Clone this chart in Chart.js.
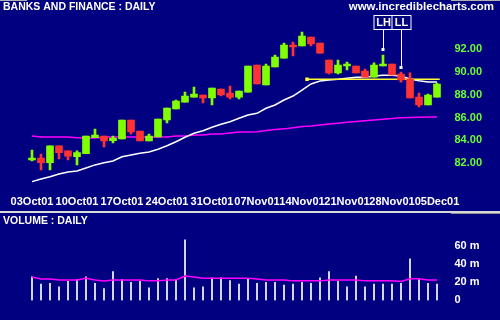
<!DOCTYPE html>
<html>
<head>
<meta charset="utf-8">
<script src="https://cdn.jsdelivr.net/npm/chart.js@4"></script>
<style>
  body { margin: 0; background: #000080; width: 500px; height: 320px; overflow: hidden; position: relative; }
  canvas { position: absolute; left: 0; }
  #price { top: 0; }
  #volume { top: 213px; }
  .rule { position: absolute; }
</style>
</head>
<body>
<canvas id="price" width="500" height="211"></canvas>
<div class="rule" style="left:0;top:0;width:27px;height:1px;background:#b0b0b0"></div>
<div class="rule" style="left:451px;top:0;width:49px;height:1px;background:#b0b0b0"></div>
<div class="rule" style="left:0;top:211px;width:500px;height:2px;background:#d8d8d8"></div>
<div class="rule" style="left:451px;top:213px;width:49px;height:1px;background:#909090"></div>
<canvas id="volume" width="500" height="107"></canvas>
<script>
// daily candles, 03Oct01 .. 05Dec01
const opens  = [82.26,82.44,82.03,83.50,83.06,82.55,82.82,84.23,84.37,83.96,
                84.11,85.78,84.81,83.93,84.29,85.78,86.75,87.36,87.80,87.98,
                87.72,88.51,88.16,87.80,88.24,90.62,88.86,90.44,91.23,92.38,
                92.29,93.08,92.55,91.06,89.92,90.53,90.53,90.09,89.56,90.53,
                90.71,89.83,89.39,87.80,87.10,87.80]
const highs  = [83.14,82.79,83.50,83.50,83.06,83.06,84.37,84.99,84.37,84.37,
                85.78,85.78,84.81,84.55,85.87,86.84,87.54,88.24,88.68,87.98,
                88.60,88.51,88.77,88.33,90.53,90.62,90.71,91.50,92.55,92.64,
                93.52,93.08,92.55,91.06,91.06,90.88,90.53,90.27,90.80,91.50,
                90.71,90.00,89.92,88.16,88.07,89.04]
const lows   = [82.18,81.38,81.38,82.35,82.26,81.82,82.82,84.23,83.41,83.76,
                84.11,84.55,83.93,83.93,84.29,85.52,86.75,87.36,87.80,87.28,
                87.10,87.89,87.63,87.63,88.24,88.95,88.86,90.44,91.23,91.41,
                92.29,92.29,91.67,89.83,89.83,90.18,89.92,89.56,89.56,90.53,
                89.74,89.12,87.72,86.93,87.10,87.80]
const closes = [82.44,82.03,83.50,82.91,82.59,82.91,84.37,84.46,83.93,84.20,
                85.78,84.73,83.93,84.37,85.87,86.84,87.45,87.89,88.07,87.72,
                88.60,87.98,87.80,88.33,90.53,88.95,90.53,91.32,92.38,92.20,
                93.17,92.47,91.67,89.92,90.62,90.71,89.92,89.56,90.62,90.71,
                89.74,89.30,87.72,87.10,87.98,88.95]
const maShort = [80.36,80.59,80.79,81.03,81.21,81.30,81.56,81.83,82.01,82.18,
                 82.54,82.71,82.85,82.97,83.21,83.52,83.87,84.26,84.61,84.84,
                 85.14,85.40,85.63,85.93,86.22,86.37,86.81,87.10,87.54,87.89,
                 88.42,88.95,89.21,89.30,89.36,89.45,89.54,89.54,89.65,89.71,
                 89.71,89.65,89.39,89.24,89.12,89.12]
const maLong  = [84.37,84.29,84.29,84.29,84.29,84.22,84.20,84.20,84.29,84.29,
                 84.29,84.29,84.29,84.29,84.29,84.29,84.37,84.37,84.46,84.46,
                 84.55,84.55,84.64,84.73,84.73,84.75,84.85,84.95,85.00,85.10,
                 85.20,85.25,85.35,85.43,85.50,85.58,85.65,85.72,85.78,85.85,
                 85.92,85.98,86.00,86.03,86.05,86.05]
// volume in millions
const volumes = [26,18,19,15,21,23,26,19,13,32,23,20,21,14,24,24,23,67,14,15,
                 25,25,22,18,24,19,20,20,17,18,20,19,25,32,21,15,27,15,18,18,
                 18,19,46,23,19,18]
const volMa   = [26,23.6,23.6,22.6,22.6,22.6,24.6,22.6,21.6,22.6,22.6,22.6,22.6,21.6,21.6,
                 22.6,22.6,27,26,24.6,24.6,24.6,24.6,24.6,24.6,23.6,22.6,22.6,22.6,21.6,
                 21.6,21.6,21.6,22.6,22.6,22.6,22.6,21.6,21.6,21.6,21.6,21,24,24,22.6,22.6]

const tickDays   = [0,5,10,15,20,25,30,35,40,45]
const tickLabels = ['03Oct01','10Oct01','17Oct01','24Oct01','31Oct01','07Nov01','14Nov01','21Nov01','28Nov01','05Dec01']
const priceTicks = [82,84,86,88,90,92]
const volTicks   = [0,20,40,60]

// support line and LH / LL markers
const supportX = [30.56, 45.3]
const supportY = 89.36
const annX     = [39, 41]
const annY     = [91.98, 90.40]
const annText  = ['LH', 'LL']
const annBox   = [95.0, 93.76]

const GREEN = '#80ff00'
const RED = '#ff3333'
const NAVY = '#000080'

Chart.defaults.font.family = 'Arial'
Chart.defaults.font.size = 11
Chart.defaults.font.weight = 'bold'
Chart.defaults.color = '#ffffff'

let candleColors = opens.map((o, i) => closes[i] >= o ? GREEN : RED)
let xy = arr => arr.map((v, i) => ({x: i, y: v}))

function xScale(display){
    return {
        type: 'linear', min: -0.5, max: 45.5, display: display, offset: false,
        grid: {display: false, drawTicks: false}, border: {display: false},
        afterBuildTicks: s => { s.ticks = tickDays.map(v => ({value: v})) },
        afterFit: s => {
            s.height = display ? 25.3 : 0
            s.paddingLeft = 0
            s.paddingRight = 0
        },
        ticks: {padding: 10, maxRotation: 0, autoSkip: false,
                callback: v => tickLabels[tickDays.indexOf(v)]}
    }
}

const headerText = {
    id: 'headerText',
    afterDraw(chart){
        let ctx = chart.ctx
        ctx.save()
        ctx.fillStyle = '#ffffff'
        ctx.textBaseline = 'middle'
        ctx.font = 'bold 10.5px Arial'
        ctx.textAlign = 'left'
        ctx.fillText('BANKS AND FINANCE : DAILY', 3, 7)
        ctx.font = 'bold 11.5px Arial'
        ctx.textAlign = 'right'
        ctx.fillText('www.incrediblecharts.com', 494, 7)
        ctx.restore()
    }
}

const pointers = {
    id: 'pointers',
    afterDatasetsDraw(chart){
        let ctx = chart.ctx
        let sx = chart.scales.x, sy = chart.scales.y
        ctx.save()
        for(let i = 0; i < annX.length; i++){
            let px = Math.round(sx.getPixelForValue(annX[i])) + 0.5
            let py = sy.getPixelForValue(annY[i])
            let top = Math.round(sy.getPixelForValue(annBox[0])) + 0.5
            let bot = Math.round(sy.getPixelForValue(annBox[1])) + 0.5
            ctx.strokeStyle = '#ffffff'
            ctx.lineWidth = 1
            ctx.beginPath()
            ctx.moveTo(px, bot)
            ctx.lineTo(px, py)
            ctx.stroke()
            ctx.fillStyle = '#ffffff'
            ctx.fillRect(px - 2, py - 1.5, 3, 3)
            ctx.fillStyle = NAVY
            ctx.fillRect(px - 9.5, top, 19, bot - top)
            ctx.strokeRect(px - 9.5, top, 19, bot - top)
            ctx.fillStyle = '#ffffff'
            ctx.font = 'bold 11px Arial'
            ctx.textAlign = 'center'
            ctx.textBaseline = 'middle'
            ctx.fillText(annText[i], px, (top + bot) / 2 + 0.5)
        }
        ctx.restore()
    }
}

new Chart(document.getElementById('price'), {
    data: {
        datasets: [
            {type: 'bar', data: opens.map((o, i) => ({x: i, y: [o, closes[i]]})),
             backgroundColor: candleColors, barThickness: 7, grouped: false, order: 0},
            {type: 'bar', data: lows.map((l, i) => ({x: i, y: [l, highs[i]]})),
             backgroundColor: candleColors, barThickness: 2, grouped: false, order: 1},
            {type: 'line', data: supportX.map(x => ({x: x, y: supportY})),
             borderColor: '#ffff33', borderWidth: 1.5, pointStyle: 'rect',
             pointRadius: [2.5, 0], pointBackgroundColor: '#ffff33', pointBorderWidth: 0, order: 2},
            {type: 'line', data: xy(maShort), borderColor: '#ffffff', borderWidth: 1.5,
             pointRadius: 0, order: 3},
            {type: 'line', data: xy(maLong), borderColor: '#ff00ff', borderWidth: 1.5,
             pointRadius: 0, order: 4}
        ]
    },
    options: {
        responsive: false,
        animation: false,
        devicePixelRatio: 1,
        events: [],
        layout: {padding: {left: 27.5, top: 20.9, right: 0, bottom: 0}},
        plugins: {legend: {display: false}, tooltip: {enabled: false}},
        scales: {
            x: xScale(true),
            y: {
                type: 'linear', position: 'right', min: 80, max: 94.5,
                grid: {display: false, drawTicks: false}, border: {display: false},
                afterBuildTicks: s => { s.ticks = priceTicks.map(v => ({value: v})) },
                afterFit: s => { s.width = 58.5 },
                ticks: {padding: 13, autoSkip: false, color: '#66ff33', callback: v => v.toFixed(2)}
            }
        }
    },
    plugins: [headerText, pointers]
})

const volumeTitle = {
    id: 'volumeTitle',
    afterDraw(chart){
        let ctx = chart.ctx
        ctx.save()
        ctx.fillStyle = '#ffffff'
        ctx.font = 'bold 10.5px Arial'
        ctx.textBaseline = 'middle'
        ctx.fillText('VOLUME : DAILY', 3, 8.5)
        ctx.restore()
    }
}

new Chart(document.getElementById('volume'), {
    data: {
        datasets: [
            {type: 'line', data: xy(volMa), borderColor: '#ff00ff', borderWidth: 1.5,
             pointRadius: 0, order: 0},
            {type: 'bar', data: xy(volumes), backgroundColor: '#ffffff',
             barThickness: 1, grouped: false, order: 1}
        ]
    },
    options: {
        responsive: false,
        animation: false,
        devicePixelRatio: 1,
        events: [],
        layout: {padding: {left: 27.5, top: 14.45, right: 0, bottom: 18.3}},
        plugins: {legend: {display: false}, tooltip: {enabled: false}},
        scales: {
            x: xScale(false),
            y: {
                type: 'linear', position: 'right', min: 0, max: 75,
                grid: {display: false, drawTicks: false}, border: {display: false},
                afterBuildTicks: s => { s.ticks = volTicks.map(v => ({value: v})) },
                afterFit: s => { s.width = 58.5 },
                ticks: {padding: 13, autoSkip: false, callback: v => v ? v + ' m' : '0'}
            }
        }
    },
    plugins: [volumeTitle]
})
</script>
</body>
</html>
